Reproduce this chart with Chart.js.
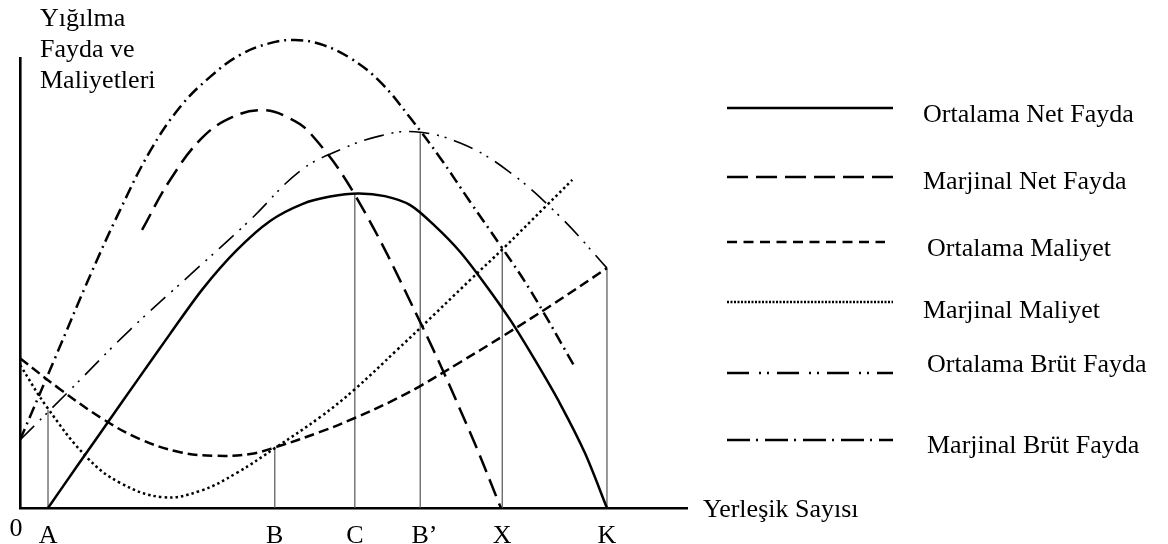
<!DOCTYPE html>
<html>
<head>
<meta charset="utf-8">
<script src="https://cdn.jsdelivr.net/npm/chart.js@4"></script>
<style>
  html, body { margin: 0; padding: 0; background: #fff; }
</style>
</head>
<body>
<canvas id="chart" width="1168" height="544"></canvas>
<script>
// Axis text
const yTitleLines = ['Yığılma', 'Fayda ve', 'Maliyetleri'];
const xTitle = 'Yerleşik Sayısı';

// Points marked on the horizontal axis (0..100 units)
const tickNames = ['0', 'A', 'B', 'C', 'B’', 'X', 'K'];
const tickValues = [0, 4.2, 38.2, 50.2, 60.0, 72.3, 88.0];

// Thin vertical guide lines: where they stand and how high they go
const dropX = [4.2, 38.2, 50.2, 60.0, 72.3, 88.0];
const dropTop = [21.8, 13.6, 69.9, 83.6, 58.0, 53.3];

// Curve names (legend order)
const seriesNames = ['Ortalama Net Fayda', 'Marjinal Net Fayda', 'Ortalama Maliyet',
                     'Marjinal Maliyet', 'Ortalama Brüt Fayda', 'Marjinal Brüt Fayda'];

// Curves as [x, y] pairs
const ortalamaNetFayda = [[4.2, 0], [8.7, 9.6], [13.2, 19.1], [17.5, 28.2], [22.5, 38.7], [27.4, 48.7],
  [32.5, 57.3], [37.5, 63.8], [42.4, 67.6], [46.5, 69.2], [50.7, 69.9], [54.7, 69.3], [58.5, 67.3],
  [62.2, 62.7], [66.0, 56.9], [69.7, 49.8], [73.5, 41.8], [77.2, 32.9], [81.0, 23.1], [84.7, 12.2], [88.0, 0]];
const marjinalNetFayda = [[18.3, 61.8], [22.5, 72.9], [27.4, 82.4], [31.9, 86.9], [36.4, 88.4], [40.0, 86.9],
  [43.5, 83.3], [50.2, 69.6], [60.0, 41.3], [67.5, 16.7], [72.1, 0]];
const ortalamaMaliyet = [[0, 33.3], [6.0, 26.4], [12.4, 19.8], [18.0, 15.3], [24.0, 12.4], [29.2, 11.6],
  [34.5, 12.0], [38.5, 13.6], [45.0, 16.9], [50.2, 20.0], [55.5, 23.6], [60.0, 27.1], [66.0, 32.4],
  [72.4, 38.2], [79.5, 44.9], [88.0, 53.3]];
const marjinalMaliyet = [[0, 31.8], [4.05, 22.4], [10.0, 11.3], [15.0, 5.6], [21.4, 2.4], [27.0, 3.8],
  [32.5, 7.8], [38.5, 13.6], [45.0, 20.2], [50.2, 26.4], [56.5, 35.1], [60.0, 40.0], [67.5, 50.7],
  [72.4, 57.6], [79.0, 67.3], [82.8, 72.9]];
const ortalamaBrutFayda = [[0, 15.1], [7.5, 26.2], [16.5, 39.6], [25.5, 51.8], [34.5, 64.0], [42.0, 74.9],
  [48.0, 79.6], [54.0, 82.7], [59.2, 83.6], [66.0, 81.1], [73.0, 75.1], [81.0, 64.7], [88.0, 53.3]];
const marjinalBrutFayda = [[0, 15.1], [5.25, 33.3], [10.5, 51.6], [15.0, 66.2], [19.5, 79.3], [24.0, 89.1],
  [28.5, 95.8], [33.0, 100.7], [37.5, 103.3], [41.2, 104.0], [45.0, 103.1], [49.5, 100.0], [54.0, 94.7],
  [58.5, 86.7], [63.0, 77.8], [67.5, 68.0], [72.0, 58.4], [76.5, 48.4], [83.2, 31.3]];

const curves = [ortalamaNetFayda, marjinalNetFayda, ortalamaMaliyet,
                marjinalMaliyet, ortalamaBrutFayda, marjinalBrutFayda];

// line styles: chart dash, legend dash, width
const curveDash = [[], [18, 8], [10, 5], [2.5, 3], [20, 8, 2, 6, 2, 8], [12, 5, 2, 5]];
const legendDash = [[], [21, 8], [10, 6.5], [2, 1.5], [22, 10, 2, 6, 2, 8], [23, 6, 2, 7]];
const curveWidth = [2.5, 2.5, 2.5, 2.5, 1.6, 2.5];
const curveTension = [0.3, 0.4, 0.4, 0.4, 0.4, 0.4];

const FONT = '26px "Liberation Serif", "Times New Roman", serif';

// build datasets
const datasets = curves.map((pts, i) => ({
    label: seriesNames[i],
    data: pts.map(p => ({ x: p[0], y: p[1] })),
    borderColor: '#000',
    borderWidth: curveWidth[i],
    borderDash: curveDash[i],
    borderCapStyle: 'butt',
    pointRadius: 0,
    tension: curveTension[i],
    capBezierPoints: false,
    fill: false,
    clip: false,
    order: 0
}));

// guide lines from the axis up to the curve crossings
const dropData = [];
dropX.forEach((x, i) => {
    dropData.push({ x: x, y: 0 }, { x: x, y: dropTop[i] }, { x: x, y: null });
});
datasets.push({
    label: 'guides',
    data: dropData,
    borderColor: '#555',
    borderWidth: 1.2,
    pointRadius: 0,
    tension: 0,
    spanGaps: false,
    fill: false,
    order: 1
});

// text labels + the long-line legend on the right
const textPlugin = {
    id: 'figureText',
    afterDraw(chart) {
        const ctx = chart.ctx;
        const xs = chart.scales.x;
        ctx.save();
        ctx.fillStyle = '#000';
        ctx.font = FONT;
        ctx.textBaseline = 'alphabetic';

        // vertical axis title
        ctx.textAlign = 'left';
        yTitleLines.forEach((t, i) => ctx.fillText(t, 40, 26 + i * 31));

        // horizontal axis title
        ctx.fillText(xTitle, 703, 517);

        // axis point names
        tickNames.forEach((t, i) => {
            const px = xs.getPixelForValue(tickValues[i]);
            if (t === '0') {
                ctx.textAlign = 'center';
                ctx.fillText(t, px - 4, 536);
            } else {
                const w = ctx.measureText(t.charAt(0)).width;
                ctx.textAlign = 'left';
                ctx.fillText(t, px - w / 2, 543);
            }
        });

        // legend
        const lineY = [108, 177, 242, 302, 373, 440];
        const lineEnd = [893, 893, 885, 893, 893, 893];
        const textX = [923, 923, 927, 923, 927, 927];
        const textY = [122, 189, 256, 318, 372, 453];
        ctx.textAlign = 'left';
        seriesNames.forEach((name, i) => {
            ctx.beginPath();
            ctx.setLineDash(legendDash[i]);
            ctx.lineWidth = 2.6;
            ctx.strokeStyle = '#000';
            ctx.moveTo(727, lineY[i]);
            ctx.lineTo(lineEnd[i], lineY[i]);
            ctx.stroke();
            ctx.fillText(name, textX[i], textY[i]);
        });
        ctx.restore();
    }
};

const chart = new Chart(document.getElementById('chart').getContext('2d'), {
    type: 'line',
    data: { datasets: datasets },
    options: {
        responsive: false,
        animation: false,
        devicePixelRatio: 1,
        layout: { padding: { left: 20, top: 58, right: 481, bottom: 36 } },
        plugins: { legend: { display: false }, tooltip: { enabled: false } },
        scales: {
            x: {
                type: 'linear', min: 0, max: 100,
                grid: { display: false, drawTicks: false, tickLength: 0 },
                ticks: { display: false },
                border: { display: true, color: '#000', width: 2.6 }
            },
            y: {
                type: 'linear', min: 0, max: 100,
                grid: { display: false, drawTicks: false, tickLength: 0 },
                ticks: { display: false },
                border: { display: true, color: '#000', width: 2.6 }
            }
        }
    },
    plugins: [textPlugin]
});
</script>
</body>
</html>
